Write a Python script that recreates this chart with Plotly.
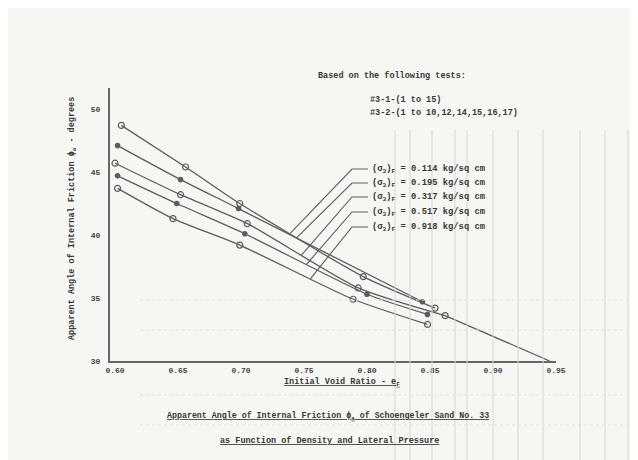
import numpy as np
import plotly.graph_objects as go

# ---- data ----
pressures = ["0.114", "0.195", "0.317", "0.517", "0.918"]  # (sigma3)_F, kg/sq cm

c1_x = [0.605, 0.656, 0.699, 0.797, 0.854]
c1_y = [48.7, 45.4, 42.5, 36.7, 34.2]
c2_x = [0.602, 0.652, 0.698, 0.844]
c2_y = [47.1, 44.4, 42.1, 34.7]
c3_x = [0.600, 0.652, 0.705, 0.793, 0.862]
c3_y = [45.7, 43.2, 40.9, 35.8, 33.6]
c4_x = [0.602, 0.649, 0.703, 0.800, 0.848]
c4_y = [44.7, 42.5, 40.1, 35.3, 33.7]
c5_x = [0.602, 0.646, 0.699, 0.789, 0.848]
c5_y = [43.7, 41.3, 39.2, 34.9, 32.9]

# extension of the fitted line beyond the test points
ext_x = [0.862, 0.945]
ext_y = [33.6, 30.0]

x_ticks = [0.60, 0.65, 0.70, 0.75, 0.80, 0.85, 0.90, 0.95]
x_ticktext = ["0.60", "0.65", "0.70", "0.75", "0.80", "0.85", "0.90", "0.95"]
y_ticks = [30, 35, 40, 45, 50]
y_ticktext = ["30", "35", "40", "45", "50"]

curves_x = [c1_x, c2_x, c3_x, c4_x, c5_x]
curves_y = [c1_y, c2_y, c3_y, c4_y, c5_y]

# ---- layout geometry (screen pixels; page body has an 8px margin) ----
W, H = 638, 460
O = 8
SL, ST, SR, SB = 110, 88, 556, 361          # plot area on screen
L, T = SL - O, ST - O
R, B = W - (SR - O), H - (SB - O)
PW, PH = SR - SL, SB - ST


def xp(px):
    return (px - SL) / PW


def yp(py):
    return (SB - py) / PH


INK = "#383838"
LINE = "#5c5c5c"
FONT = "Liberation Mono"
Y0, Y1 = 30, 51.67
X0, X1 = 0.596, 0.95

fig = go.Figure()

symbols = ["circle-open", "circle", "circle-open", "circle", "circle-open"]
sizes = [6, 4.5, 6, 4.5, 6]
for i in range(5):
    fig.add_trace(go.Scatter(
        x=curves_x[i], y=curves_y[i], mode="lines+markers",
        line=dict(color=LINE, width=1.3, shape="spline", smoothing=0.6),
        marker=dict(symbol=symbols[i], size=sizes[i], color=LINE,
                    line=dict(color=LINE, width=1.2)),
        showlegend=False, hoverinfo="skip"))

fig.add_trace(go.Scatter(x=ext_x, y=ext_y, mode="lines",
                         line=dict(color=LINE, width=1.3),
                         showlegend=False, hoverinfo="skip"))

shapes = []
# faint graph-paper lines showing through the scan
for gx in [395, 410, 432, 455, 467, 493, 518, 543, 580, 605, 628]:
    shapes.append(dict(type="line", xref="paper", yref="paper",
                       x0=xp(gx), x1=xp(gx), y0=yp(462), y1=yp(130),
                       line=dict(color="#d6d6d2", width=1)))
for gy in [300, 330, 395, 425]:
    shapes.append(dict(type="line", xref="paper", yref="paper",
                       x0=xp(140), x1=xp(636), y0=yp(gy), y1=yp(gy),
                       line=dict(color="#e0e0dc", width=1, dash="dot")))

# leader lines from the labels to the curves
row_py = [169, 183, 197, 212, 227]
lead_end_x = [0.739, 0.744, 0.748, 0.752, 0.755]
x_per_px = (X1 - X0) / PW
y_per_px = (Y1 - Y0) / PH
x_start = X0 + (352 - SL) * x_per_px
x_label = X0 + (368 - SL) * x_per_px
annotations = []
for i in range(5):
    ry = Y0 + (SB - row_py[i]) * y_per_px
    ey = float(np.interp(lead_end_x[i], curves_x[i], curves_y[i]))
    shapes.append(dict(type="path", xref="x", yref="y",
                       path=f"M {x_label},{ry} L {x_start},{ry} L {lead_end_x[i]},{ey}",
                       line=dict(color=LINE, width=1.1)))
    annotations.append(dict(
        x=x_label + 0.0015, y=ry, xref="x", yref="y", xanchor="left", yanchor="middle",
        text=f"<b>(σ<sub>3</sub>)<sub>F</sub> = {pressures[i]} kg/sq cm</b>", showarrow=False,
        font=dict(family=FONT, size=8.8, color=INK)))


def note(text, px, py, size=9, anchor="center", angle=0):
    annotations.append(dict(x=xp(px), y=yp(py), xref="paper", yref="paper",
                            xanchor=anchor, yanchor="middle", text=text, textangle=angle,
                            showarrow=False, font=dict(family=FONT, size=size, color=INK)))


note("<b>Based on the following tests:</b>", 392, 76, 8.5)
note("<b>#3-1-(1 to 15)</b>", 368, 100, 8.5, "left")
note("<b>#3-2-(1 to 10,12,14,15,16,17)</b>", 368, 113, 8.5, "left")
note("<b>Apparent Angle of Internal Friction ϕ<sub>a</sub> - degrees</b>", 72, 219, 8.5, angle=-90)
note("<b><u>Initial Void Ratio - e<sub>F</sub></u></b>", 342, 382, 8.5)
note("<b><u>Apparent Angle of Internal Friction ϕ<sub>a</sub> of Schoengeler Sand No. 33</u></b>", 328, 416, 8.3)
note("<b><u>as Function of Density and Lateral Pressure</u></b>", 329, 441, 8.5)

axis_common = dict(showline=True, linecolor="#666666", linewidth=2, showgrid=False,
                   zeroline=False, ticks="", tickfont=dict(family=FONT, size=8, color="#444444"))

fig.update_layout(
    width=W, height=H, margin=dict(l=L, r=R, t=T, b=B),
    paper_bgcolor="#f6f6f3", plot_bgcolor="#f6f6f3",
    xaxis=dict(range=[X0, X1], tickvals=x_ticks, ticktext=["<b>%s</b>" % t for t in x_ticktext],
               **axis_common),
    yaxis=dict(range=[Y0, Y1], tickvals=y_ticks, ticktext=["<b>%s</b>" % t for t in y_ticktext],
               ticklabelstandoff=6, **axis_common),
    shapes=shapes, annotations=annotations,
)

fig.write_html("out.html")
